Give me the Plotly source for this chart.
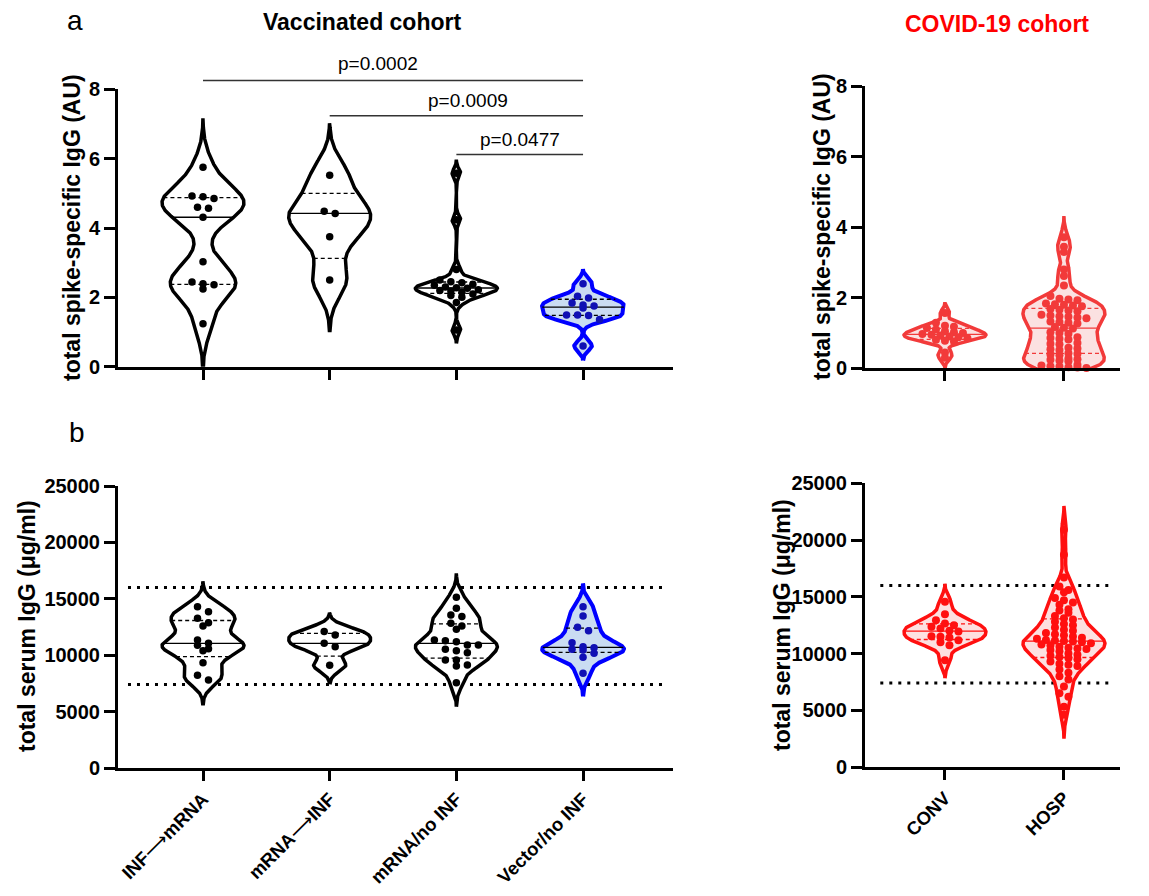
import numpy as np
import plotly.graph_objects as go

W, H = 1149, 896

# ---------------- data ----------------
ARROW = "<span style='font-family:DejaVu Sans;font-weight:normal'>⟶</span>"
vacc_groups = ["INF" + ARROW + "mRNA", "mRNA" + ARROW + "INF", "mRNA/no INF", "Vector/no INF"]
covid_groups = ["CONV", "HOSP"]

# total spike-specific IgG (AU)
spike_inf_mrna = [5.75, 4.92, 4.90, 4.85, 4.60, 4.57, 4.31, 3.03, 2.44, 2.39, 2.36, 2.24, 1.24]
spike_mrna_inf = [5.52, 4.48, 4.42, 3.75, 2.50]
spike_mrna_noinf = [5.58, 4.24, 2.80, 2.50, 2.45, 2.42, 2.38, 2.35, 2.30, 2.28, 2.26, 2.22,
                    2.20, 2.18, 2.15, 2.10, 2.05, 2.00, 1.85, 1.06]
spike_vector_noinf = [2.39, 2.03, 1.98, 1.84, 1.78, 1.75, 1.69, 1.49, 1.49, 1.48, 1.36, 0.60]
spike_conv = [1.57, 1.29, 1.21, 1.18, 1.14, 1.10, 1.05, 1.02, 1.00, 0.97, 0.95, 0.93, 0.90,
              0.88, 0.85, 0.81, 0.78, 0.76, 0.45, 0.30]
spike_hosp = [3.72, 3.45, 3.30, 2.80, 2.62, 2.35, 2.05,
              1.97, 1.95, 1.93,
              1.84, 1.82, 1.80, 1.78, 1.76,
              1.68, 1.66, 1.64, 1.62,
              1.52, 1.50, 1.48, 1.46, 1.44, 1.42,
              1.33, 1.31, 1.29, 1.27,
              1.17, 1.15, 1.13,
              1.02, 1.00, 0.98,
              0.88, 0.86, 0.84, 0.82,
              0.72, 0.70, 0.68,
              0.58, 0.56, 0.54, 0.52,
              0.43, 0.41, 0.39, 0.37,
              0.28, 0.26, 0.24, 0.22, 0.20,
              0.10, 0.08, 0.06, 0.05, 0.03, 0.02, 0.01]

# total serum IgG (ug/ml)
serum_inf_mrna = [14300, 13860, 13270, 12880, 12590, 11350, 11050, 10880, 10580, 10400,
                  9340, 8220, 7800]
serum_mrna_inf = [12090, 11790, 11050, 10750, 9100]
serum_mrna_noinf = [15130, 14160, 13560, 13420, 12830, 12590, 12290, 11350, 11290, 11200,
                    10900, 10900, 10520, 10400, 10220, 9570, 9570, 9130, 9040, 7560]
serum_vector_noinf = [14300, 13470, 12470, 12170, 11110, 10750, 10650, 10520, 10460, 10170,
                      9810, 8390]
serum_conv = [14560, 13470, 12940, 12650, 12500, 12350, 12200, 12000, 11950, 11530, 11470,
              11410, 11180, 11000, 10730, 9410]
serum_hosp = [20900, 18700, 16700,
              15900, 15600, 15400, 14900, 14700, 14500, 14300, 13900, 13800, 13600, 13300,
              13100, 13000, 12800, 12600, 12500, 12300, 12100, 12000, 11800, 11700, 11600,
              11500, 11400, 11300, 11200, 11150, 11100,
              11050, 11000, 10900, 10800, 10700, 10600, 10500, 10450, 10400, 10300, 10200,
              10000, 9900, 9800, 9700, 9600, 9500, 9300, 9100, 9000, 8900, 8600, 8300, 8000,
              7700, 7100, 6500, 6200, 5300, 4600]

# KDE smoothing per violin
spike_vacc_bw = [0.47, 0.50, 0.13, 0.14]
spike_covid_bw = [0.10, 0.20]
serum_vacc_bw = [750, 560, 710, 680]
serum_covid_bw = [530, 700]

p_labels = ["p=0.0002", "p=0.0009", "p=0.0477"]
p_pairs = [(0, 3), (1, 3), (2, 3)]
normal_range = [7400, 16000]

spike_ticks = [0, 2, 4, 6, 8]
serum_ticks = [0, 5000, 10000, 15000, 20000, 25000]

# ---------------- geometry / style ----------------
FONT = "Liberation Sans"

def fx(px):
    return px / W

def fy(py):
    return 1 - py / H

panels = {
    "TL": dict(xa="x", ya="y", xpx=(118, 673), ypx=(89.3, 366.7), xr=(-0.671, 3.71), yr=(0, 8)),
    "TR": dict(xa="x2", ya="y2", xpx=(865, 1120), ypx=(86.3, 368.3), xr=(-0.672, 1.471), yr=(0, 8)),
    "BL": dict(xa="x3", ya="y3", xpx=(118, 673), ypx=(486, 768), xr=(-0.671, 3.71), yr=(0, 25000)),
    "BR": dict(xa="x4", ya="y4", xpx=(865, 1120), ypx=(483.3, 767), xr=(-0.672, 1.471), yr=(0, 25000)),
}
for p in panels.values():
    p["px_x"] = (p["xpx"][1] - p["xpx"][0]) / (p["xr"][1] - p["xr"][0])
    p["px_y"] = (p["ypx"][1] - p["ypx"][0]) / (p["yr"][1] - p["yr"][0])

BLACK = dict(line="#000000", fill="#ffffff", dot="#000000", stat="#000000", lw=3.5)
BLUE = dict(line="#0000ff", fill="#cadcf2", dot="#1010b4", stat="#000000", lw=4)
RED_T = dict(line="#f23a3a", fill="#fbe1e1", dot="#f23a3a", stat="#f23a3a", lw=3.5)
RED_B = dict(line="#ff1010", fill="#fde0e0", dot="#ff1010", stat="#ff1010", lw=3.5)

HALF_W_PX = 41


def kde(vals, h, n=600):
    v = np.asarray(vals, float)
    grid = np.linspace(v.min() - 3 * h, v.max() + 3 * h, n)
    dens = np.exp(-0.5 * ((grid[:, None] - v[None, :]) / h) ** 2).sum(axis=1)
    return grid, dens / dens.max()


def swarm(vals, px_y, thr_px, step):
    v = np.asarray(vals, float)
    order = np.argsort(-v, kind="stable")
    offs = np.zeros(len(v))
    rows, cur = [], []
    for i in order:
        if cur and (v[cur[0]] - v[i]) * px_y > thr_px:
            rows.append(cur)
            cur = []
        cur.append(i)
    if cur:
        rows.append(cur)
    for r in rows:
        n = len(r)
        for k, i in enumerate(r):
            offs[i] = (k - (n - 1) / 2) * step
    return offs


fig = go.Figure()


def add_violin(vals, pos, h, pn, st, dot_step_px, dot_size):
    p = panels[pn]
    grid, d = kde(vals, h)
    w = (HALF_W_PX / p["px_x"]) * d
    xs = np.concatenate([pos + w, pos - w[::-1]])
    ys = np.concatenate([grid, grid[::-1]])
    common = dict(xaxis=p["xa"], yaxis=p["ya"], hoverinfo="skip", showlegend=False)
    fig.add_trace(go.Scatter(x=xs, y=ys, mode="lines", fill="toself", fillcolor=st["fill"],
                             line=dict(color=st["line"], width=st["lw"]), **common))
    q1, med, q3 = np.percentile(vals, [25, 50, 75], method="weibull")
    for q, dash in [(q1, "4px,3px"), (med, "solid"), (q3, "4px,3px")]:
        wq = float(np.interp(q, grid, w))
        fig.add_trace(go.Scatter(x=[pos - wq, pos + wq], y=[q, q], mode="lines",
                                 line=dict(color=st["stat"], width=1.3, dash=dash), **common))
    offs = swarm(vals, p["px_y"], 5.2, dot_step_px / p["px_x"])
    fig.add_trace(go.Scatter(x=pos + offs, y=vals, mode="markers", cliponaxis=False,
                             marker=dict(size=dot_size, color=st["dot"], line=dict(width=0)),
                             **common))


spike_vacc = [spike_inf_mrna, spike_mrna_inf, spike_mrna_noinf, spike_vector_noinf]
serum_vacc = [serum_inf_mrna, serum_mrna_inf, serum_mrna_noinf, serum_vector_noinf]
vacc_styles = [BLACK, BLACK, BLACK, BLUE]

for i, vals in enumerate(spike_vacc):
    add_violin(vals, i, spike_vacc_bw[i], "TL", vacc_styles[i], 11, 7.5)
for i, vals in enumerate(serum_vacc):
    add_violin(vals, i, serum_vacc_bw[i], "BL", vacc_styles[i], 11, 7.5)
for i, vals in enumerate([spike_conv, spike_hosp]):
    add_violin(vals, i, spike_covid_bw[i], "TR", RED_T, 9, 8)
for i, vals in enumerate([serum_conv, serum_hosp]):
    add_violin(vals, i, serum_covid_bw[i], "BR", RED_B, 9, 8)

# ---------------- axes ----------------
tickfont = dict(family=FONT, size=20, color="black", weight="bold")
xtickfont = dict(family=FONT, size=18.5, color="black", weight="bold")


def xaxis_cfg(pn, labels):
    p = panels[pn]
    cfg = dict(domain=[fx(p["xpx"][0]), fx(p["xpx"][1])], range=list(p["xr"]),
               anchor=p["ya"], showline=True, linecolor="black", linewidth=3,
               ticks="outside", ticklen=10, tickwidth=3, tickcolor="black",
               showgrid=False, zeroline=False, tickvals=list(range(len(labels))),
               tickfont=xtickfont, fixedrange=True, automargin=False)
    if pn in ("TL", "TR"):
        cfg["showticklabels"] = False
    else:
        cfg["ticktext"] = labels
        cfg["tickangle"] = -45
        cfg["ticklabelstandoff"] = 0
    return cfg


def yaxis_cfg(pn, ticks):
    p = panels[pn]
    return dict(domain=[fy(p["ypx"][1]), fy(p["ypx"][0])], range=list(p["yr"]),
                anchor=p["xa"], showline=True, linecolor="black", linewidth=3,
                ticks="outside", ticklen=11, tickwidth=3, tickcolor="black",
                showgrid=False, zeroline=False, tickvals=ticks, tickformat="d",
                tickfont=tickfont, fixedrange=True, automargin=False)


# ---------------- shapes ----------------
shapes = []
p_line_y = [80.5, 115.7, 154.5]
for (a, b), ypx in zip(p_pairs, p_line_y):
    shapes.append(dict(type="line", xref="x", yref="paper", x0=a, x1=b, y0=fy(ypx), y1=fy(ypx),
                       line=dict(color="#333333", width=1.5)))
for v in normal_range:
    shapes.append(dict(type="line", xref="x3 domain", yref="y3", x0=0.018, x1=0.99, y0=v, y1=v,
                       layer="below", line=dict(color="black", width=3, dash="3px,6px")))
    shapes.append(dict(type="line", xref="x4 domain", yref="y4", x0=0.06, x1=0.97, y0=v, y1=v,
                       layer="below", line=dict(color="black", width=3, dash="3px,6px")))

# ---------------- annotations ----------------
ann = []
p_text_x = [1.38, 2.09, 2.5]
p_text_y = [63, 100, 139]
for t, xv, ypx in zip(p_labels, p_text_x, p_text_y):
    ann.append(dict(text=t, xref="x", yref="paper", x=xv, y=fy(ypx), showarrow=False,
                    xanchor="center", yanchor="middle",
                    font=dict(family=FONT, size=19, color="black")))

ann.append(dict(text="a", xref="paper", yref="paper", x=fx(75), y=fy(20), showarrow=False,
                xanchor="center", yanchor="middle", font=dict(family=FONT, size=28, color="black")))
ann.append(dict(text="b", xref="paper", yref="paper", x=fx(77), y=fy(432), showarrow=False,
                xanchor="center", yanchor="middle", font=dict(family=FONT, size=28, color="black")))
ann.append(dict(text="Vaccinated cohort", xref="paper", yref="paper", x=fx(362), y=fy(22),
                showarrow=False, xanchor="center", yanchor="middle",
                font=dict(family=FONT, size=23, color="black", weight="bold")))
ann.append(dict(text="COVID-19 cohort", xref="paper", yref="paper", x=fx(997), y=fy(24),
                showarrow=False, xanchor="center", yanchor="middle",
                font=dict(family=FONT, size=23, color="#ff0000", weight="bold")))

ytitles = [("total spike-specific IgG (AU)", 72, 228),
           ("total serum IgG (μg/ml)", 27, 626),
           ("total spike-specific IgG (AU)", 822, 227),
           ("total serum IgG (μg/ml)", 782, 625)]
for t, xpx, ypx in ytitles:
    ann.append(dict(text=t, xref="paper", yref="paper", x=fx(xpx), y=fy(ypx), showarrow=False,
                    textangle=-90, xanchor="center", yanchor="middle",
                    font=dict(family=FONT, size=23, color="black", weight="bold")))

fig.update_layout(
    template="none",
    width=W, height=H, margin=dict(l=0, r=0, t=0, b=0, pad=0, autoexpand=False),
    paper_bgcolor="white", plot_bgcolor="white", showlegend=False,
    xaxis=xaxis_cfg("TL", vacc_groups), yaxis=yaxis_cfg("TL", spike_ticks),
    xaxis2=xaxis_cfg("TR", covid_groups), yaxis2=yaxis_cfg("TR", spike_ticks),
    xaxis3=xaxis_cfg("BL", vacc_groups), yaxis3=yaxis_cfg("BL", serum_ticks),
    xaxis4=xaxis_cfg("BR", covid_groups), yaxis4=yaxis_cfg("BR", serum_ticks),
    shapes=shapes, annotations=ann,
)

fig.write_html("out.html", post_script="document.body.style.margin='0';",
               config={"displayModeBar": False})
